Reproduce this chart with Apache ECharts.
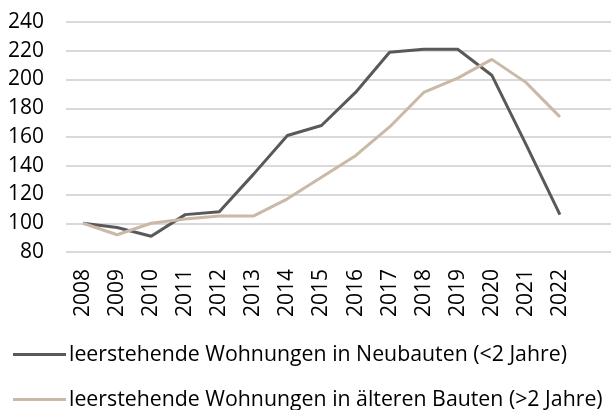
<!DOCTYPE html>
<html><head><meta charset="utf-8">
<script src="https://cdn.jsdelivr.net/npm/echarts@6/dist/echarts.min.js"></script>
<style>html,body{margin:0;padding:0;background:#fff}#c{width:611px;height:410px}</style>
</head><body><div id="c"></div>
<script>
const years = ['2008','2009','2010','2011','2012','2013','2014','2015','2016','2017','2018','2019','2020','2021','2022'];
const neubauten = [100, 97, 91, 106, 108, 134, 161, 168, 191, 219, 221, 221, 203, 155, 106];
const aeltere = [100, 92, 100, 103, 105, 105, 117, 132, 147, 167, 191, 201, 214, 198, 174];
const seriesNames = ['leerstehende Wohnungen in Neubauten (<2 Jahre)', 'leerstehende Wohnungen in älteren Bauten (>2 Jahre)'];
const yMin = 80, yMax = 240, yStep = 20;

const font = '"Open Sans", sans-serif';
const legendBase = {
  orient: 'horizontal', left: 13, padding: 0, itemWidth: 53, itemHeight: 3,
  icon: 'rect',
  textStyle: {fontSize: 21.3, color: '#000', fontFamily: font, padding: [0,0,0,-2]}
};
const chart = echarts.init(document.getElementById('c'), null, {renderer:'canvas'});
chart.setOption({
  animation: false,
  grid: {left: 66, top: 22, height: 230, width: 548},
  xAxis: {
    type: 'category',
    data: years.concat(['']),
    boundaryGap: true,
    axisLine: {show: false},
    axisTick: {show: false},
    axisLabel: {rotate: 90, margin: 17, fontSize: 21, color: '#000', fontFamily: font, interval: 0}
  },
  yAxis: {
    type: 'value', min: yMin, max: yMax, interval: yStep,
    axisLine: {show: false}, axisTick: {show: false},
    axisLabel: {margin: 22, fontSize: 21, color: '#000', fontFamily: font},
    splitLine: {lineStyle: {color: '#d9d9d9', width: 2}}
  },
  legend: [
    Object.assign({}, legendBase, {top: 344, data: [seriesNames[0]]}),
    Object.assign({}, legendBase, {top: 389, data: [seriesNames[1]]})
  ],
  series: [
    {name: seriesNames[0], type: 'line', data: neubauten, symbol: 'none', lineStyle: {color: '#595959', width: 3}, itemStyle: {color: '#595959'}},
    {name: seriesNames[1], type: 'line', data: aeltere, symbol: 'none', lineStyle: {color: '#c9b9a6', width: 3}, itemStyle: {color: '#c9b9a6'}}
  ]
});
</script></body></html>
